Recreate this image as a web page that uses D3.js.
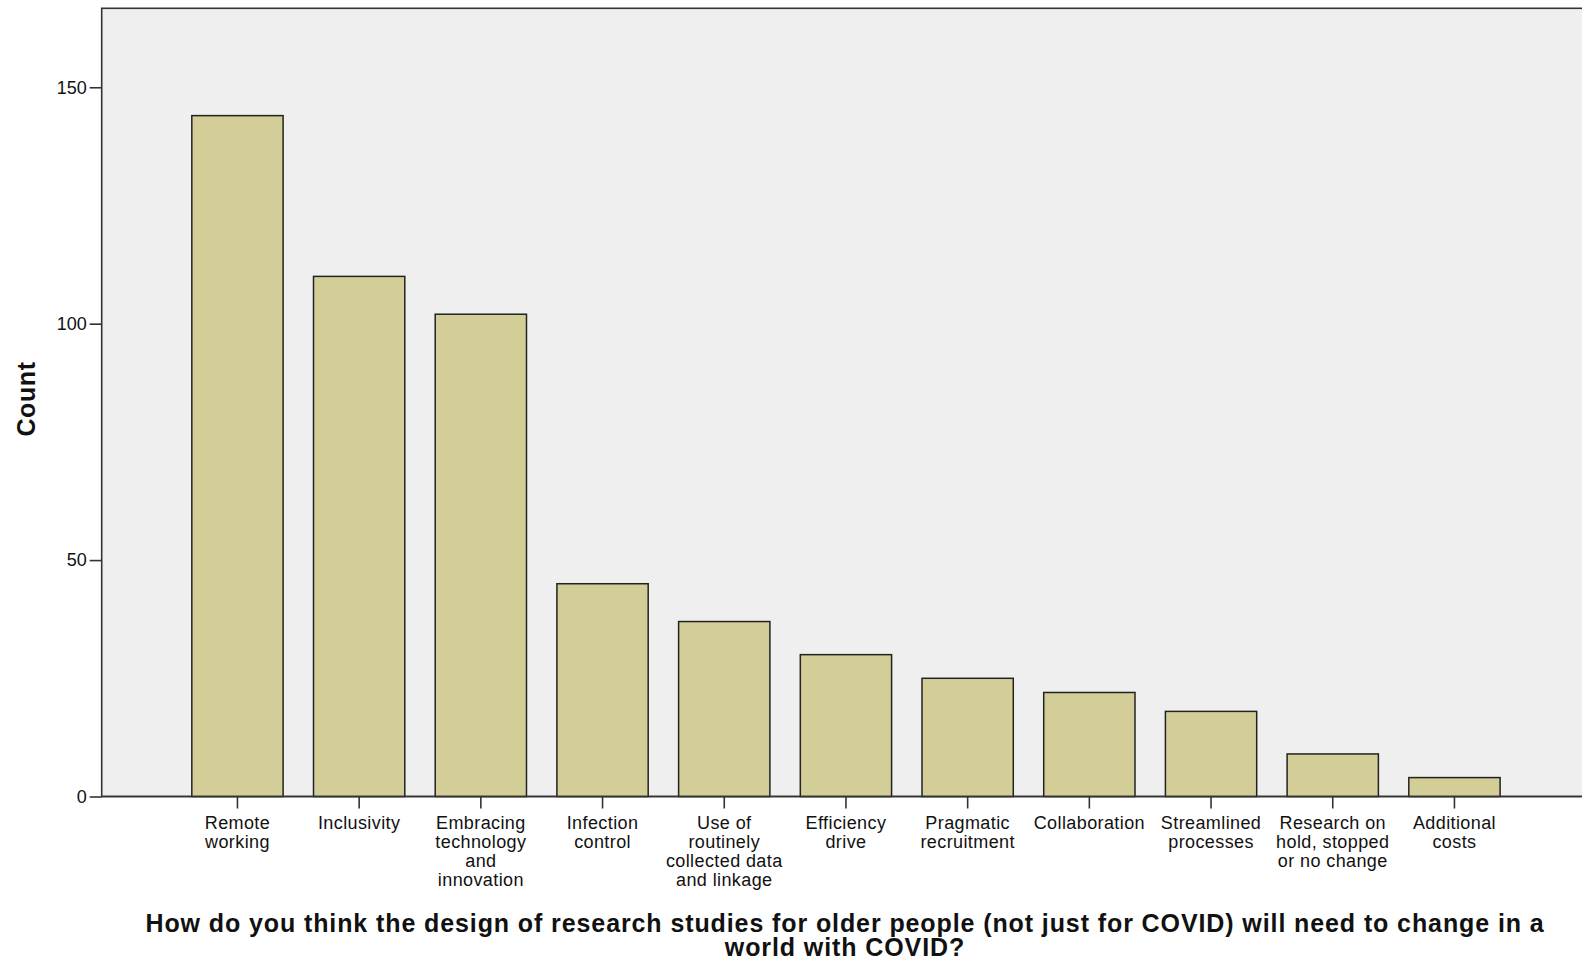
<!DOCTYPE html>
<html>
<head>
<meta charset="utf-8">
<script src="https://cdn.jsdelivr.net/npm/d3@7"></script>
<style>
  body { margin: 0; background: #fff; }
  svg text { font-family: "Liberation Sans", Arial, sans-serif; fill: #111; }
</style>
</head>
<body>
<div id="chart"></div>
<script>
// Categories (each label already split into its display lines)
const CATEGORIES = [
  ["Remote", "working"],
  ["Inclusivity"],
  ["Embracing", "technology", "and", "innovation"],
  ["Infection", "control"],
  ["Use of", "routinely", "collected data", "and linkage"],
  ["Efficiency", "drive"],
  ["Pragmatic", "recruitment"],
  ["Collaboration"],
  ["Streamlined", "processes"],
  ["Research on", "hold, stopped", "or no change"],
  ["Additional", "costs"]
];
// Counts
const COUNTS = [144, 110, 102, 45, 37, 30, 25, 22, 18, 9, 4];
const Y_TICKS = [0, 50, 100, 150];
const Y_TITLE = "Count";
const X_TITLE = [
  "How do you think the design of research studies for older people (not just for COVID) will need to change in a",
  "world with COVID?"
];

const WIDTH = 1582;
const HEIGHT = 962;
// plot frame (right side runs off the picture)
const FRAME = { left: 101.7, top: 8.3, bottom: 796.5, right: 1620 };
const Y_MAX = 166.7;

main();

function main() {
  const svg = d3.select("#chart").append("svg")
    .attr("width", WIDTH)
    .attr("height", HEIGHT);

  const keys = CATEGORIES.map(d => d.join(" "));
  const x = d3.scaleBand()
    .domain(keys)
    .range([176.6, 1515.3])
    .paddingInner(0.25)
    .paddingOuter(0.125);
  const y = d3.scaleLinear()
    .domain([0, Y_MAX])
    .range([FRAME.bottom, FRAME.top]);

  drawFrame(svg);
  drawBars(svg, x, y, keys);
  drawAxes(svg, x, y, keys);
  drawTitles(svg);
}

// grey plot background with a dark border on top and left
function drawFrame(svg) {
  svg.append("rect")
    .attr("x", FRAME.left)
    .attr("y", FRAME.top)
    .attr("width", FRAME.right - FRAME.left)
    .attr("height", FRAME.bottom - FRAME.top)
    .attr("fill", "#efefef")
    .attr("stroke", "#333")
    .attr("stroke-width", 1.6);
}

function drawBars(svg, x, y, keys) {
  svg.append("g")
    .selectAll("rect")
    .data(COUNTS)
    .join("rect")
    .attr("x", (d, i) => x(keys[i]))
    .attr("y", d => y(d))
    .attr("width", x.bandwidth())
    .attr("height", d => y(0) - y(d))
    .attr("fill", "#d3ce97")
    .attr("stroke", "#222")
    .attr("stroke-width", 1.5);
}

function drawAxes(svg, x, y, keys) {
  // y axis: ticks point outward, no domain path (frame draws the line)
  const yAxis = svg.append("g")
    .attr("transform", `translate(${FRAME.left},0)`)
    .call(d3.axisLeft(y).tickValues(Y_TICKS).tickSize(12).tickPadding(3));
  yAxis.select(".domain").remove();
  yAxis.selectAll(".tick line").attr("stroke", "#333").attr("stroke-width", 1.6);
  yAxis.selectAll(".tick text")
    .attr("font-size", 18)
    .attr("font-family", "Liberation Sans, Arial, sans-serif")
    .attr("fill", "#111");

  // x axis line
  const xAxis = svg.append("g")
    .attr("transform", `translate(0,${FRAME.bottom})`)
    .call(d3.axisBottom(x).tickSize(12).tickFormat(""));
  xAxis.select(".domain")
    .attr("d", `M${FRAME.left},0H${WIDTH + 10}`)
    .attr("stroke", "#333")
    .attr("stroke-width", 1.6);
  xAxis.selectAll(".tick line").attr("stroke", "#333").attr("stroke-width", 1.6);

  // multi-line category labels
  xAxis.selectAll(".tick").each(function (d, i) {
    const t = d3.select(this).select("text")
      .attr("y", 0)
      .attr("font-size", 18)
      .attr("letter-spacing", 0.4)
      .attr("font-family", "Liberation Sans, Arial, sans-serif")
      .attr("fill", "#111")
      .attr("dy", null)
      .text(null);
    CATEGORIES[i].forEach((line, j) => {
      t.append("tspan")
        .attr("x", 0)
        .attr("y", 32.5 + j * 18.9)
        .text(line);
    });
  });
}

function drawTitles(svg) {
  svg.append("text")
    .attr("transform", "translate(35,399) rotate(-90)")
    .attr("text-anchor", "middle")
    .attr("font-size", 25)
    .attr("letter-spacing", 0.6)
    .attr("font-weight", "bold")
    .text(Y_TITLE);

  svg.append("g")
    .selectAll("text")
    .data(X_TITLE)
    .join("text")
    .attr("x", 845)
    .attr("y", (d, i) => 931.5 + i * 24)
    .attr("text-anchor", "middle")
    .attr("font-size", 25)
    .attr("letter-spacing", 0.9)
    .attr("font-weight", "bold")
    .text(d => d);
}
</script>
</body>
</html>
